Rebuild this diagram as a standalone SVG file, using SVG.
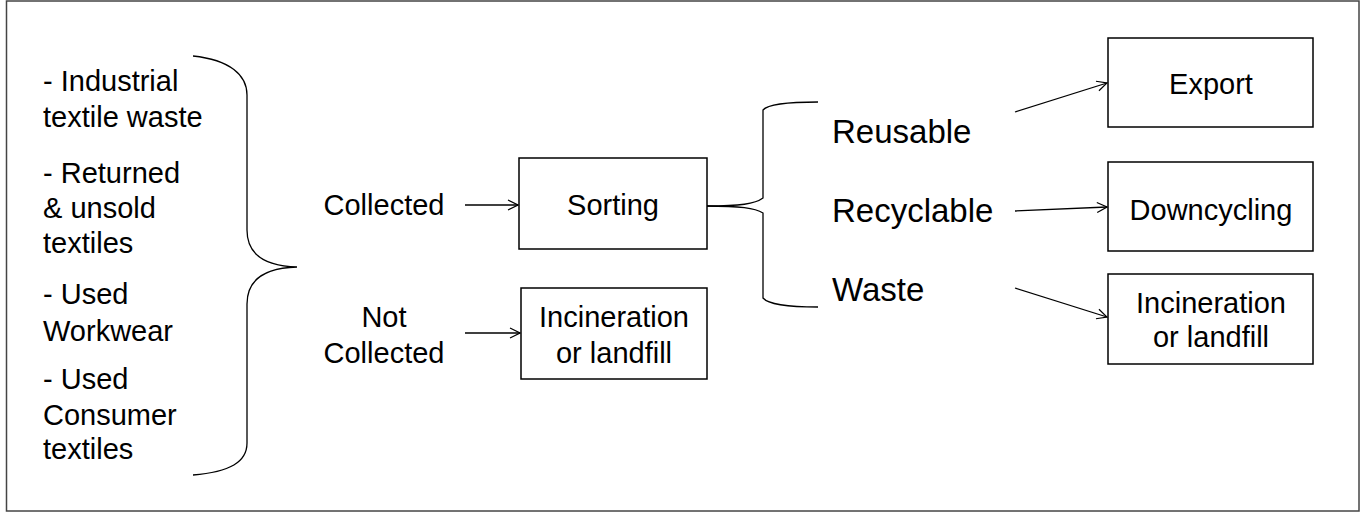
<svg xmlns="http://www.w3.org/2000/svg" width="1369" height="513" viewBox="0 0 1369 513">
<defs>
<marker id="arr" viewBox="0 0 12 12" refX="11" refY="6" markerWidth="12" markerHeight="12" markerUnits="userSpaceOnUse" orient="auto">
<path d="M1,1 L11,6 L1,11" fill="none" stroke="#000" stroke-width="1.2"/>
</marker>
<style>
.t{font-family:"Liberation Sans",Arial,sans-serif;font-size:29px;fill:#000}
.b{font-family:"Liberation Sans",Arial,sans-serif;font-size:33px;fill:#000}
.box{fill:#fff;stroke:#000;stroke-width:1.5}
.ln{fill:none;stroke:#000;stroke-width:1.3}
</style>
</defs>
<rect x="0" y="0" width="1369" height="513" fill="#fff"/>
<rect x="6.5" y="1" width="1352.5" height="510" fill="none" stroke="#444" stroke-width="1.5"/>

<g id="sources">
<text class="t" x="43" y="91">- Industrial</text>
<text class="t" x="43" y="127">textile waste</text>
<text class="t" x="43" y="183">- Returned</text>
<text class="t" x="43" y="218">&amp; unsold</text>
<text class="t" x="43" y="253">textiles</text>
<text class="t" x="43" y="304">- Used</text>
<text class="t" x="43" y="341">Workwear</text>
<text class="t" x="43" y="389">- Used</text>
<text class="t" x="43" y="425">Consumer</text>
<text class="t" x="43" y="459">textiles</text>
</g>

<g id="collected"><text class="t" x="384" y="215" text-anchor="middle">Collected</text></g>
<g id="not-collected">
<text class="t" x="384" y="327" text-anchor="middle">Not</text>
<text class="t" x="384" y="363" text-anchor="middle">Collected</text>
</g>

<g id="sorting">
<rect class="box" x="519" y="158" width="188" height="91"/>
<text class="t" x="613" y="215" text-anchor="middle">Sorting</text>
</g>
<g id="incineration-left">
<rect class="box" x="521" y="288" width="186" height="91"/>
<text class="t" x="614" y="327" text-anchor="middle">Incineration</text>
<text class="t" x="614" y="363" text-anchor="middle">or landfill</text>
</g>

<g id="reusable"><text class="b" x="832" y="143">Reusable</text></g>
<g id="recyclable"><text class="b" x="832" y="222">Recyclable</text></g>
<g id="waste"><text class="b" x="832" y="301">Waste</text></g>

<g id="export">
<rect class="box" x="1108" y="38" width="205" height="89"/>
<text class="t" x="1211" y="94" text-anchor="middle">Export</text>
</g>
<g id="downcycling">
<rect class="box" x="1108" y="162" width="205" height="89"/>
<text class="t" x="1211" y="220" text-anchor="middle">Downcycling</text>
</g>
<g id="incineration-right">
<rect class="box" x="1108" y="274" width="205" height="90"/>
<text class="t" x="1211" y="313" text-anchor="middle">Incineration</text>
<text class="t" x="1211" y="347" text-anchor="middle">or landfill</text>
</g>

<g id="connectors">
<path class="ln" d="M193,56 C230,60 247,75 247,95 L247,230 C247,252 262,266 297,267 C262,268 247,282 247,304 L247,443 C247,462 230,472 193,475"/>
<path class="ln" d="M707,206 C740,206 755,204 763,198 L763,110 C768,104 790,102 818,102"/>
<path class="ln" d="M707,206 C740,206 755,208 763,213 L763,298 C768,304 790,307 818,307"/>
<line class="ln" x1="465" y1="205" x2="518" y2="205" marker-end="url(#arr)"/>
<line class="ln" x1="465" y1="333" x2="520" y2="333" marker-end="url(#arr)"/>
<line class="ln" x1="1015" y1="112" x2="1107" y2="83" marker-end="url(#arr)"/>
<line class="ln" x1="1015" y1="211" x2="1107" y2="207" marker-end="url(#arr)"/>
<line class="ln" x1="1015" y1="288" x2="1107" y2="317" marker-end="url(#arr)"/>
</g>
</svg>
